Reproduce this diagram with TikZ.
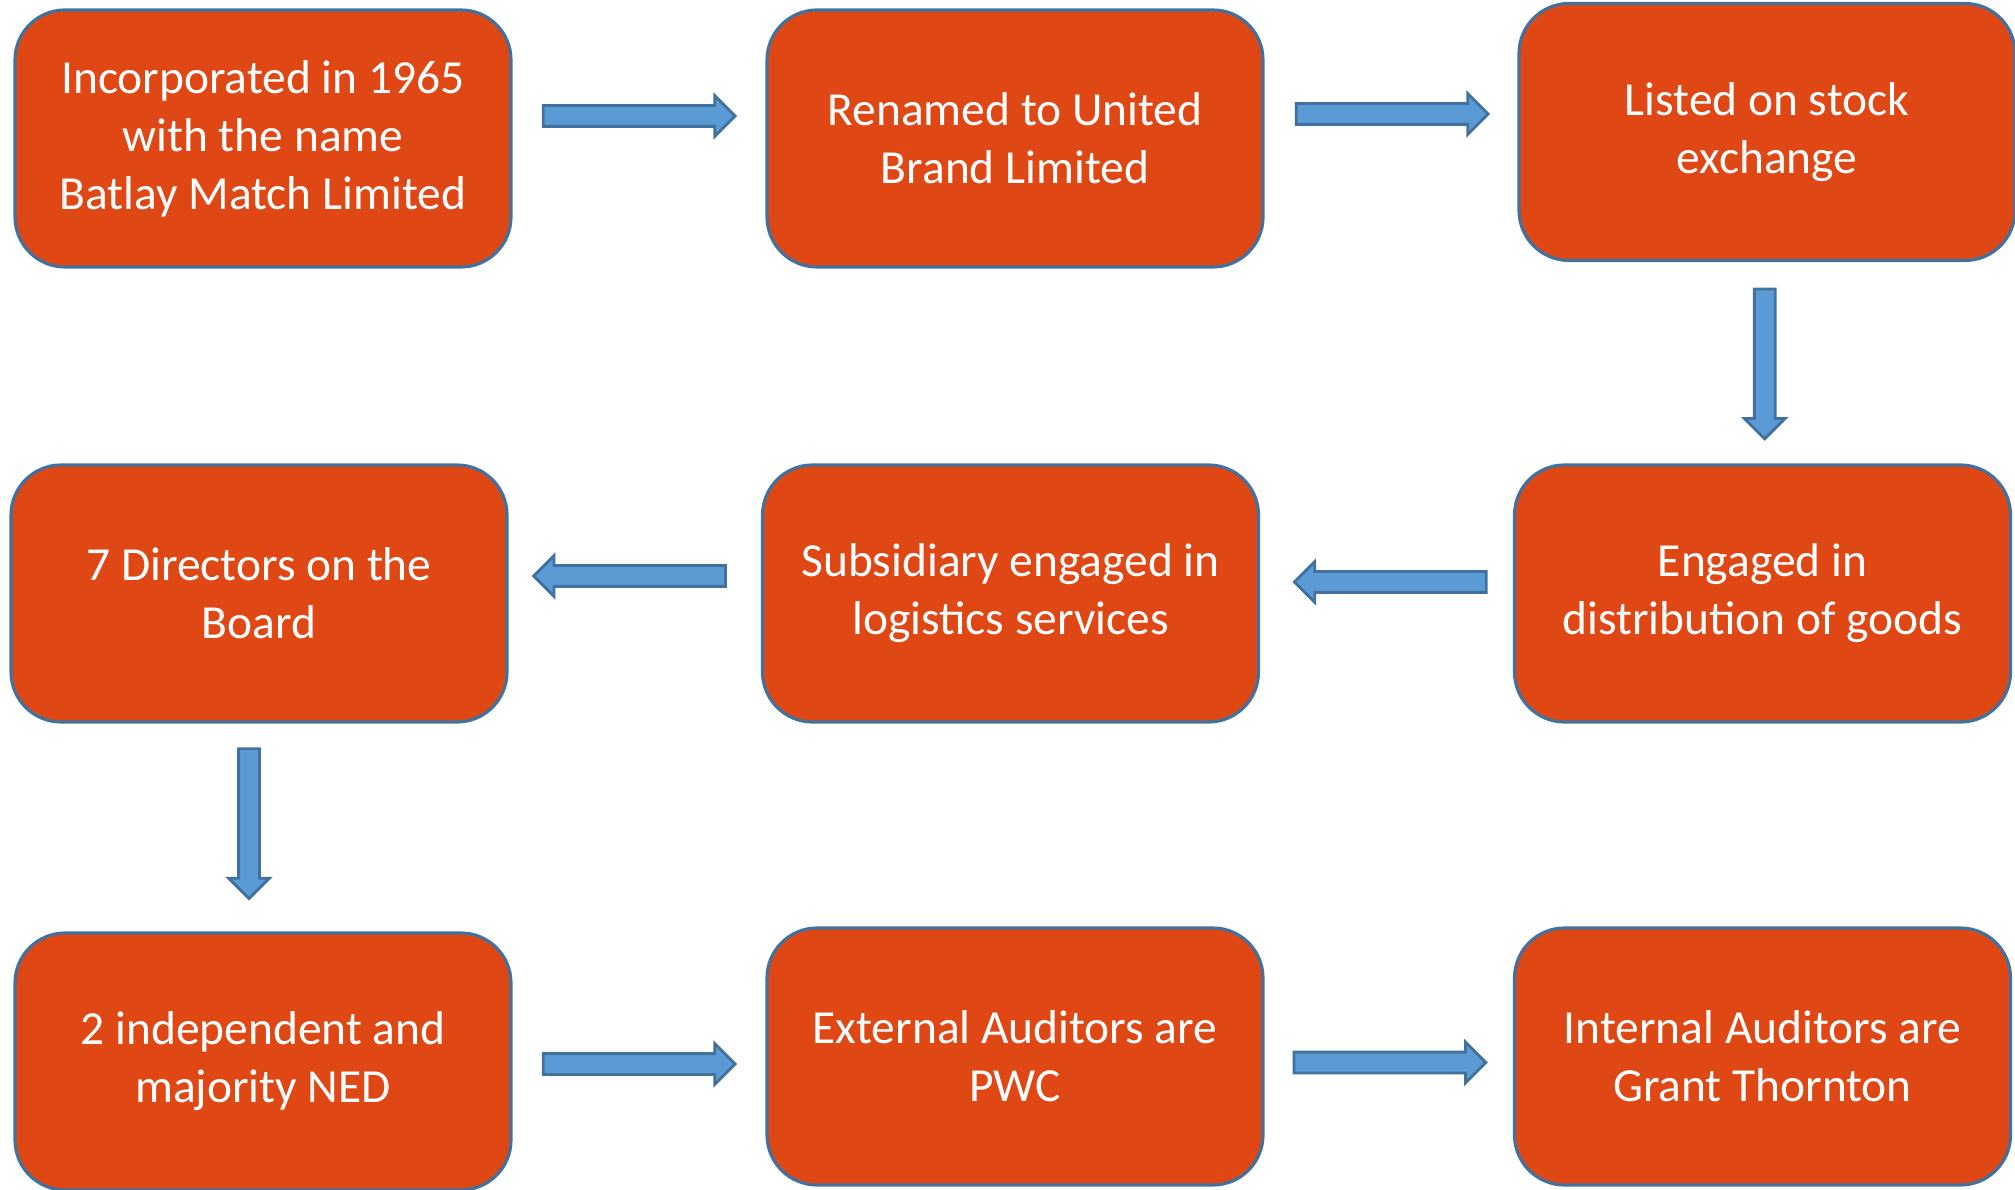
\documentclass[tikz,border=0pt]{standalone}
\usepackage{xcolor}
\usepackage{fontspec}
\setmainfont{Carlito}
\usepackage{tikz}
\usetikzlibrary{shapes.arrows}

\definecolor{boxfill}{HTML}{DF4815}
\definecolor{boxline}{HTML}{41719C}
\definecolor{arrowfill}{HTML}{5B9BD5}

\tikzset{
  stage/.style={rectangle, rounded corners=0.5cm, draw=boxline, line width=0.9pt,
    fill=boxfill, text=white, minimum width=4.96cm, minimum height=2.57cm,
    align=center, font=\fontsize{13.5}{16.5}\selectfont},
  barrow/.style={single arrow, draw=boxline, line width=0.8pt, fill=arrowfill,
    minimum height=1.92cm, minimum width=0.38cm, single arrow head extend=0.1cm,
    inner sep=0.09cm}
}

\begin{document}
\begin{tikzpicture}
  \useasboundingbox (0,0) rectangle (20.15,11.89);

  \node[stage] (incorp) at (2.63,10.505) {Incorporated in 1965\\with the name\\Batlay Match Limited};
  \node[stage] (renamed) at (10.15,10.505) {Renamed to United\\Brand Limited};
  \node[stage] (listed) at (17.67,10.57) {Listed on stock\\exchange};
  \node[stage] (directors) at (2.59,5.955) {7 Directors on the\\Board};
  \node[stage] (subsid) at (10.105,5.955) {Subsidiary engaged in\\logistics services};
  \node[stage] (distrib) at (17.625,5.955) {Engaged in\\distribution of goods};
  \node[stage] (ned) at (2.63,1.275) {2 independent and\\majority NED};
  \node[stage] (external) at (10.15,1.325) {External Auditors are\\PWC};
  \node[stage] (internal) at (17.625,1.325) {Internal Auditors are\\Grant Thornton};

  \path ([shift={(-0.05cm,0.225cm)}]incorp.east) -- node[barrow] {} ([shift={(-0.05cm,0.225cm)}]renamed.west);
  \path ([shift={(-0.04cm,0.245cm)}]renamed.east) -- node[barrow] {} ([shift={(-0.04cm,0.18cm)}]listed.west);
  \path ([yshift=0.04cm]listed.center) -- node[barrow, shape border rotate=270, minimum height=1.5cm] {} ([yshift=0.04cm]distrib.center);
  \path ([shift={(0.09cm,0.115cm)}]distrib.west) -- node[barrow, shape border rotate=180] {} ([shift={(0.09cm,0.115cm)}]subsid.east);
  \path ([yshift=0.175cm]subsid.west) -- node[barrow, shape border rotate=180] {} ([yshift=0.175cm]directors.east);
  \path ([shift={(-0.1cm,0.09cm)}]directors.center) -- node[barrow, shape border rotate=270, minimum height=1.5cm] {} ([shift={(-0.14cm,0.09cm)}]ned.center);
  \path ([shift={(-0.05cm,-0.05cm)}]ned.east) -- node[barrow] {} ([shift={(-0.05cm,-0.05cm)}]external.west);
  \path ([shift={(-0.04cm,-0.06cm)}]external.east) -- node[barrow] {} ([shift={(-0.04cm,-0.06cm)}]internal.west);
\end{tikzpicture}
\end{document}
